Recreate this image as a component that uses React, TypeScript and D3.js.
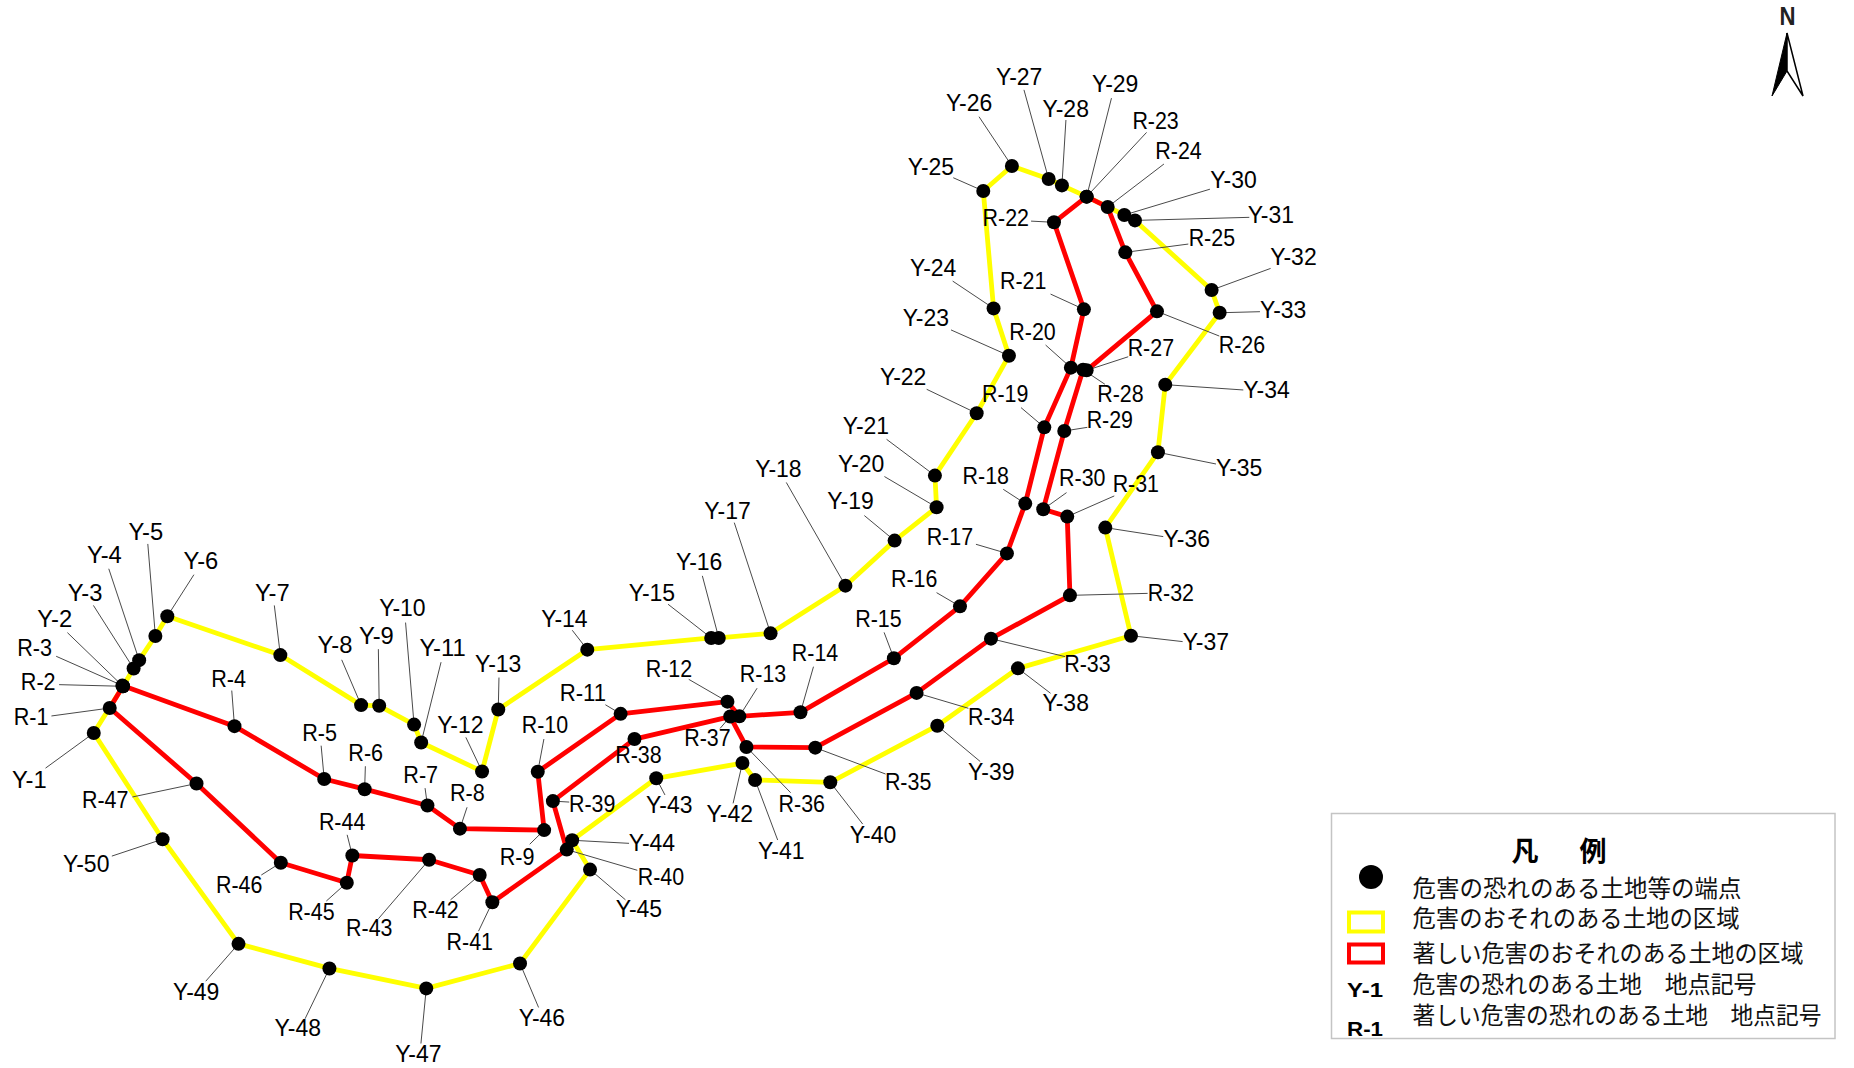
import React from "react";
import * as d3 from "d3";

// Node positions are survey readings taken from the map, in a 1568 x 903 reading grid.
const yellowRoute: [string, number, number][] = [
  ["Y-1", 79.3, 619.9], ["Y-2", 104, 580.4], ["Y-3", 113, 565.4], ["Y-4", 117.7, 558.3], ["Y-5", 131.4, 537.8],
  ["Y-6", 141.5, 521.2], ["Y-7", 237.1, 554], ["Y-8", 305.4, 596.3], ["Y-9", 320.7, 596.9], ["Y-10", 350.2, 612.8],
  ["Y-11", 356.2, 627.9], ["Y-12", 407.7, 652.4], ["Y-13", 421.4, 600], ["Y-14", 496.7, 549.4], ["Y-15", 601.5, 539.5],
  ["Y-16", 607.9, 539.5], ["Y-17", 651.7, 535.6], ["Y-18", 715, 495.3], ["Y-19", 756.6, 457.2], ["Y-20", 792.1, 429],
  ["Y-21", 790.7, 402.2], ["Y-22", 826, 349.5], ["Y-23", 853.3, 300.8], ["Y-24", 840.3, 260.8], ["Y-25", 831.6, 161.5],
  ["Y-26", 855.8, 140.4], ["Y-27", 886.9, 151.4], ["Y-28", 898.1, 156.8], ["Y-29", 919, 166.3], ["Y-30", 950.9, 181.8],
  ["Y-31", 959.9, 186.4], ["Y-32", 1024.7, 245.3], ["Y-33", 1031.5, 264.5], ["Y-34", 985.5, 325.3], ["Y-35", 979.3, 382.5],
  ["Y-36", 934.8, 446.2], ["Y-37", 956.5, 537.6], ["Y-38", 860.9, 565.2], ["Y-39", 792.7, 613.7], ["Y-40", 702.2, 661.6],
  ["Y-41", 638.6, 659.6], ["Y-42", 627.9, 645.3], ["Y-43", 555, 658.2], ["Y-44", 483.9, 710.6], ["Y-45", 499, 735.4],
  ["Y-46", 439.8, 814.8], ["Y-47", 360.5, 835.9], ["Y-48", 278.6, 819], ["Y-49", 201.7, 798.2], ["Y-50", 137.5, 709.7],
];

const redRoute: [string, number, number][] = [
  ["R-1", 92.8, 598.8], ["R-2", 104, 580.4], ["R-3", 103.5, 579.8], ["R-4", 198.3, 614.1], ["R-5", 274.2, 658.8],
  ["R-6", 308.4, 667.4], ["R-7", 361.5, 681.2], ["R-8", 389, 700.8], ["R-9", 460.2, 702], ["R-10", 454.8, 652.7],
  ["R-11", 524.9, 603.7], ["R-12", 615.2, 593.4], ["R-13", 625.3, 605.8], ["R-14", 677, 602.4], ["R-15", 756, 556.7],
  ["R-16", 811.9, 512.8], ["R-17", 851.6, 468], ["R-18", 867.1, 425.9], ["R-19", 883.2, 361.4], ["R-20", 905.7, 310.9],
  ["R-21", 916.7, 261.6], ["R-22", 891.4, 188], ["R-23", 919, 166.3], ["R-24", 936.8, 175.1], ["R-25", 951.7, 213.4],
  ["R-26", 978.5, 263.3], ["R-27", 919, 313.2], ["R-28", 916, 312.6], ["R-29", 900.1, 364.5], ["R-30", 882.3, 430.7],
  ["R-31", 902.6, 436.9], ["R-32", 904.9, 503.5], ["R-33", 838.1, 540.1], ["R-34", 775.2, 586], ["R-35", 689.5, 632.3],
  ["R-36", 631.3, 631.7], ["R-37", 617.6, 606], ["R-38", 536.6, 625], ["R-39", 467.6, 677.5], ["R-40", 479.3, 718.5],
  ["R-41", 416.4, 763], ["R-42", 405.7, 740], ["R-43", 362.9, 727.1], ["R-44", 298, 723.5], ["R-45", 293.3, 746.5],
  ["R-46", 237.5, 729.6], ["R-47", 166.2, 662.6],
];

// Label centre (first two) and where its leader line starts (last two).
const labelAnchors: Record<string, number[]> = {
  "Y-1": [25.5, 660, 38.5, 649.6], "Y-2": [47, 524, 57, 535], "Y-3": [72.6, 501.6, 79, 512], "Y-4": [89, 470, 92, 481],
  "Y-5": [124, 450, 125, 460], "Y-6": [170.6, 475, 164, 486], "Y-7": [231, 501.6, 232, 512], "Y-8": [284, 546, 289, 558],
  "Y-9": [319, 538, 320, 549], "Y-10": [341, 515, 343, 526.5], "Y-11": [375, 548.5, 373, 560], "Y-12": [390, 613.5, 394, 623.6],
  "Y-13": [422, 562, 422, 573], "Y-14": [478, 524, 484, 533], "Y-15": [552, 502, 565, 511], "Y-16": [592, 476, 594, 487],
  "Y-17": [616, 433, 621, 442], "Y-18": [659, 397, 665, 408], "Y-19": [720, 424, 731, 436], "Y-20": [729, 393, 748, 403],
  "Y-21": [733, 361, 749.8, 371.5], "Y-22": [764.5, 319.4, 783.7, 329.2], "Y-23": [783.7, 269.2, 804.3, 279],
  "Y-24": [789.9, 227, 805.7, 237.7], "Y-25": [788, 141.8, 806.2, 150.3], "Y-26": [820.3, 87.4, 828, 98.7],
  "Y-27": [862.6, 65.4, 866, 76], "Y-28": [902, 92.5, 901.5, 101.5], "Y-29": [943.8, 71.9, 940, 83],
  "Y-30": [1043.9, 153, 1023.3, 160], "Y-31": [1075.5, 182.4, 1056.6, 183.8], "Y-32": [1094.6, 218, 1074.6, 227],
  "Y-33": [1085.9, 263, 1065.6, 263.6], "Y-34": [1071.8, 329.9, 1051.5, 329.8], "Y-35": [1048.7, 396.6, 1028.4, 392.4],
  "Y-36": [1004.4, 456.7, 983.8, 453.8], "Y-37": [1020.5, 543.5, 1000.2, 542.6], "Y-38": [902, 595.4, 888.5, 586.3],
  "Y-39": [839, 653, 829, 644], "Y-40": [739, 707, 729.6, 696.9], "Y-41": [661.4, 720.3, 657.7, 710.4],
  "Y-42": [617.9, 689.2, 620, 679.4], "Y-43": [566.7, 681.6, 562.4, 672.3], "Y-44": [552, 713.2, 532, 713.2],
  "Y-45": [541, 769.6, 529, 761], "Y-46": [459, 861.6, 455.5, 852], "Y-47": [354.5, 891.6, 356, 882.5],
  "Y-48": [252.5, 870, 258, 861.6], "Y-49": [166.6, 839.6, 174, 829.8], "Y-50": [73.6, 730.8, 94.6, 724],
  "R-1": [27, 607, 43.5, 605.5], "R-2": [33, 577.6, 50, 579], "R-3": [30, 548.5, 47.5, 555], "R-4": [194, 575, 196, 584],
  "R-5": [271, 620.5, 271.6, 630.6], "R-6": [310, 637.4, 309, 648], "R-7": [356.5, 655.7, 359.5, 666.5],
  "R-8": [396, 671, 395, 682.7], "R-9": [438, 725, 448, 714], "R-10": [461.5, 613.5, 460, 625], "R-11": [493.6, 586.8, 512, 596],
  "R-12": [566.4, 566.6, 582.5, 574.5], "R-13": [646, 570.8, 640.3, 582], "R-14": [690, 553, 688, 563.8],
  "R-15": [743.6, 523.8, 747.7, 534.8], "R-16": [773.8, 490.5, 792.1, 501.2], "R-17": [804, 454.4, 825.4, 460.3],
  "R-18": [834.4, 403, 848.5, 413.8], "R-19": [850.8, 334, 863.5, 344.7], "R-20": [873.9, 281, 884.3, 291.8],
  "R-21": [866, 238, 888.5, 248.7], "R-22": [851.3, 184.7, 872, 187], "R-23": [978, 103, 969.7, 112],
  "R-24": [997.4, 128.3, 984.4, 138.7], "R-25": [1025.6, 202, 1005, 206.4], "R-26": [1051, 291.8, 1031.2, 284.2],
  "R-27": [974, 294.6, 954.2, 301.7], "R-28": [948.3, 333.5, 934.5, 325], "R-29": [939.3, 356, 919.6, 361.4],
  "R-30": [916, 405, 902, 416.6], "R-31": [961.3, 410, 942.4, 419.4], "R-32": [990.9, 501.8, 970.6, 501.8],
  "R-33": [920.4, 561.8, 900.7, 555.3], "R-34": [839, 606.6, 819, 599], "R-35": [768.7, 661.6, 749, 654.6],
  "R-36": [678.8, 680, 668.7, 670.4], "R-37": [599, 624.4, 609, 616], "R-38": [540.6, 639.3, 536.6, 625],
  "R-39": [501.5, 680, 481.4, 678.3], "R-40": [559.7, 742.2, 539, 736], "R-41": [398, 796.7, 404.7, 787.5],
  "R-42": [369, 770, 381, 761], "R-43": [313, 785, 320, 777], "R-44": [290, 695.6, 293.6, 706], "R-45": [264, 772, 276, 762],
  "R-46": [203, 749, 221, 740], "R-47": [89.6, 677, 112, 674],
};

const legendTitle = ["凡", "例"];
const legendRows = [
  "危害の恐れのある土地等の端点",
  "危害のおそれのある土地の区域",
  "著しい危害のおそれのある土地の区域",
  "危害の恐れのある土地　地点記号",
  "著しい危害の恐れのある土地　地点記号",
];
const legendCodes = ["Y-1", "R-1"];

const W = 1854;
const H = 1068;
const x = d3.scaleLinear().domain([0, 1568]).range([0, W]);
const y = d3.scaleLinear().domain([0, 903.2]).range([0, H]);
const route = d3.line<[string, number, number]>().x((d) => x(d[1])).y((d) => y(d[2])).curve(d3.curveLinearClosed);

const YELLOW = "#ffff00";
const RED = "#ff0000";
const LATIN = "'Liberation Sans', Arial, sans-serif";
const CJK = "'Noto Sans CJK JP', sans-serif";
const rowY = [889, 919, 954, 985, 1016];
const rowLen = [329, 327, 391, 344, 409];

export default function App() {
  const nodes = [...yellowRoute, ...redRoute];
  return (
    <svg
      width={W}
      height={H}
      viewBox={`0 0 ${W} ${H}`}
      style={{ position: "absolute", left: 0, top: 0, background: "#fff" }}
    >
      <path d={route(yellowRoute) ?? ""} fill="none" stroke={YELLOW} strokeWidth={4.8} strokeLinejoin="round" />
      <path d={route(redRoute) ?? ""} fill="none" stroke={RED} strokeWidth={4.8} strokeLinejoin="round" />
      {nodes.map(([name, nx, ny]) => {
        const a = labelAnchors[name];
        if (name === "R-38") return null;
        return <line key={`l${name}`} x1={x(a[2])} y1={y(a[3])} x2={x(nx)} y2={y(ny)} stroke="#4a4a4a" strokeWidth={1} />;
      })}
      {nodes.map(([name, nx, ny]) => (
        <circle key={`c${name}`} cx={x(nx)} cy={y(ny)} r={7} fill="#000" />
      ))}
      {nodes.map(([name]) => {
        const a = labelAnchors[name];
        return (
          <text
            key={`t${name}`}
            x={x(a[0]) - 0.8}
            y={y(a[1]) - 1}
            dy="0.36em"
            textAnchor="middle"
            fontFamily={LATIN}
            fontSize={23.5}
            textLength={name.length * 11.6}
            lengthAdjust="spacingAndGlyphs"
            fill="#000"
          >
            {name}
          </text>
        );
      })}

      {/* north arrow */}
      <text x={1787.5} y={25} textAnchor="middle" fontFamily={LATIN} fontWeight={700} fontSize={26.5} textLength={16} lengthAdjust="spacingAndGlyphs" fill="#222">N</text>
      <path d="M1787,33 L1772,96 L1787,71 Z" fill="#000" stroke="#000" strokeWidth={1} />
      <path d="M1787,33 L1803,96 L1787,71 Z" fill="#fff" stroke="#000" strokeWidth={1.5} />

      {/* legend */}
      <rect x={1331.5} y={813.5} width={503.5} height={225} fill="#fff" stroke="#c4c4c4" strokeWidth={1.5} />
      {legendTitle.map((t, i) => (
        <text key={t} x={1525 + i * 68} y={851} dy="0.36em" textAnchor="middle" fontFamily={CJK} fontWeight={700} fontSize={27} fill="#000">{t}</text>
      ))}
      <circle cx={1371} cy={877} r={12} fill="#000" />
      <rect x={1349} y={912.5} width={34} height={19} fill="none" stroke={YELLOW} strokeWidth={4} />
      <rect x={1349} y={944.5} width={34} height={18} fill="none" stroke={RED} strokeWidth={4} />
      {legendCodes.map((c, i) => (
        <text key={c} x={1365} y={[989, 1028][i]} dy="0.36em" textAnchor="middle" fontFamily={LATIN} fontWeight={700} fontSize={21} textLength={36} lengthAdjust="spacingAndGlyphs" fill="#000">{c}</text>
      ))}
      {legendRows.map((r, i) => (
        <text key={r} x={1412.5} y={rowY[i] - 0.5} dy="0.36em" fontFamily={CJK} fontSize={23.4} textLength={rowLen[i]} lengthAdjust="spacingAndGlyphs" fill="#111">{r}</text>
      ))}
    </svg>
  );
}
